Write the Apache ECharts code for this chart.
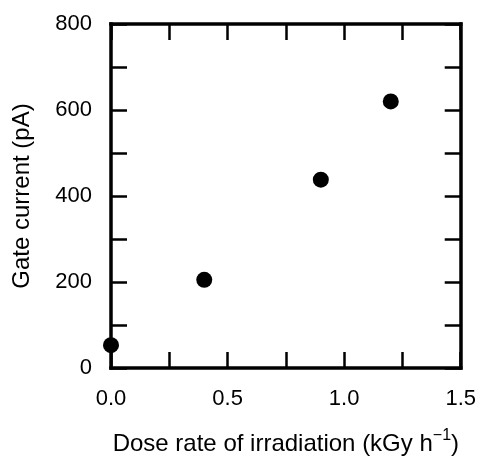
<!DOCTYPE html>
<html>
<head>
<meta charset="utf-8">
<script src="https://cdn.jsdelivr.net/npm/echarts@6/dist/echarts.min.js"></script>
<style>html,body{margin:0;padding:0;background:#fff;}#c{width:479px;height:461px;}</style>
</head>
<body>
<div id="c"></div>
<script>
const doseRate = [0.0, 0.4, 0.9, 1.2];
const gateCurrent = [53, 205, 438, 620];
const xTickLabels = ['0.0', '0.5', '1.0', '1.5'];
const yTickLabels = ['0', '200', '400', '600', '800'];

const FONT = 'Liberation Sans, Arial, sans-serif';
const FS = 22;
const TFS = 24;
const LW = 3.5;
const chart = echarts.init(document.getElementById('c'), null, {renderer: 'canvas'});
const axisLine = {show: true, onZero: false, lineStyle: {color: '#000', width: LW, cap: 'square'}};
const axisTick = {show: true, inside: true, length: 16, lineStyle: {color: '#000', width: 2.5}};
const fmtX = v => { const s = v.toFixed(1); return xTickLabels.includes(s) && Math.abs(v * 2 - Math.round(v * 2)) < 1e-9 ? s : ''; };
const fmtY = v => { const s = String(Math.round(v)); return yTickLabels.includes(s) ? s : ''; };
chart.setOption({
  animation: false,
  backgroundColor: '#fff',
  grid: {left: 111, right: 18, top: 24, bottom: 88, containLabel: false},
  xAxis: [
    {type: 'value', position: 'bottom', min: 0, max: 1.5, interval: 0.25,
     axisLine, axisTick, splitLine: {show: false},
     axisLabel: {show: true, formatter: fmtX, color: '#000', fontFamily: FONT, fontSize: FS, margin: 20, showMinLabel: true, showMaxLabel: true},
     name: 'Dose rate of irradiation (kGy h{sup|−1})', nameLocation: 'middle', nameGap: 60,
     nameTextStyle: {color: '#000', fontFamily: FONT, fontSize: TFS,
       rich: {sup: {fontFamily: FONT, fontSize: 16, color: '#000', padding: [0, 0, 16, 0]}}}},
    {type: 'value', position: 'top', min: 0, max: 1.5, interval: 0.25,
     axisLine, axisTick, splitLine: {show: false}, axisLabel: {show: false}}
  ],
  yAxis: [
    {type: 'value', position: 'left', min: 0, max: 800, interval: 100,
     axisLine, axisTick, splitLine: {show: false},
     axisLabel: {show: true, formatter: fmtY, color: '#000', fontFamily: FONT, fontSize: FS, margin: 19},
     name: 'Gate current (pA)', nameLocation: 'middle', nameGap: 77, nameRotate: 90,
     nameTextStyle: {color: '#000', fontFamily: FONT, fontSize: TFS}},
    {type: 'value', position: 'right', min: 0, max: 800, interval: 100,
     axisLine, axisTick, splitLine: {show: false}, axisLabel: {show: false}}
  ],
  series: [{
    type: 'scatter', xAxisIndex: 0, yAxisIndex: 0,
    data: doseRate.map((x, i) => [x, gateCurrent[i]]),
    symbol: 'circle', symbolSize: 16,
    itemStyle: {color: '#000', opacity: 1}, clip: false, z: 10
  }]
});
</script>
</body>
</html>
